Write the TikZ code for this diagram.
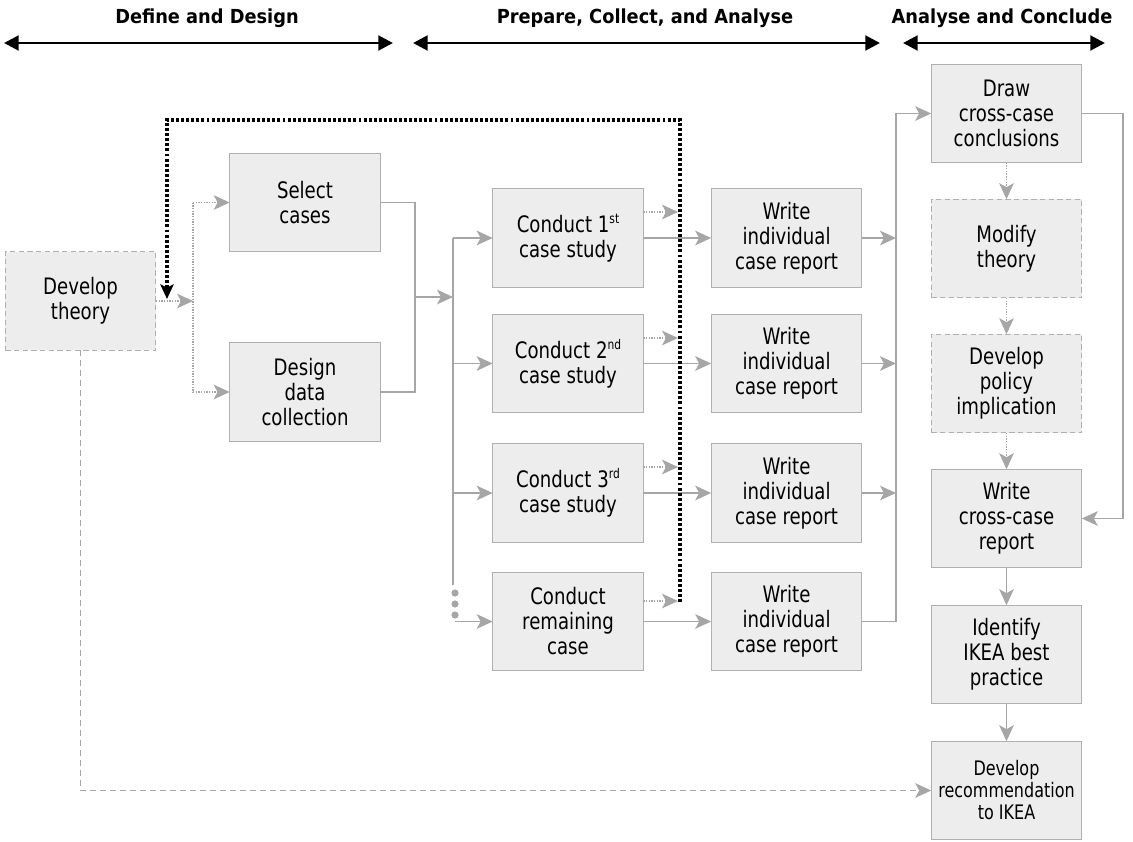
\documentclass[tikz,border=0pt]{standalone}
\usepackage{fontspec}
\setmainfont{DejaVu Sans}[FakeStretch=0.8]
\newfontfamily\headfont{DejaVu Sans}[FakeStretch=0.92]
\usetikzlibrary{arrows.meta,calc}

\definecolor{boxfill}{HTML}{EDEDED}
\definecolor{boxline}{HTML}{B0B0B0}
\definecolor{wiregray}{HTML}{A6A6A6}

% ordinal suffix, raised and reduced
\newcommand{\ordsuffix}[1]{\raisebox{0.72ex}{\fontsize{10}{10}\selectfont #1}}

\tikzset{
  box/.style={draw=boxline, fill=boxfill, line width=0.9pt,
    minimum width=113pt, minimum height=74pt, inner sep=0pt, outer sep=0pt,
    align=center, font=\fontsize{17}{18.75}\selectfont},
  dbox/.style={box, dash pattern=on 4pt off 2.5pt},
  smalltext/.style={font=\fontsize{15}{16.5}\selectfont},
  phase/.style={font=\headfont\bfseries\fontsize{14.5}{17}\selectfont, inner sep=0pt},
  gtip/.style={-{Stealth[length=12pt,width=11pt,inset=3pt]}},
  plainline/.style={draw=wiregray, line width=1.1pt},
  link/.style={plainline, gtip},
  dotlink/.style={link, line width=0.8pt, dash pattern=on 1pt off 1pt},
  dotline/.style={plainline, line width=0.8pt, dash pattern=on 1pt off 1pt},
  dashlink/.style={link, dash pattern=on 4.5pt off 3pt},
  feedback/.style={draw=black, line width=2.6pt, dash pattern=on 2.2pt off 1.6pt,
    -{Stealth[length=11pt,width=10pt,inset=2.5pt]}},
  phasearrow/.style={draw=black, line width=2.2pt,
    {Triangle[length=11pt,width=11pt]}-{Triangle[length=11pt,width=11pt]}}
}

\begin{document}
\begin{tikzpicture}[x=0.75pt, y=-0.75pt]
\useasboundingbox (0,0) rectangle (1133,842);

% phase headings with their span arrows
\node[phase] (ph1) at (207,18) {Define and Design};
\node[phase] (ph2) at (645,18) {Prepare, Collect, and Analyse};
\node[phase] (ph3) at (1002,18) {Analyse and Conclude};
\coordinate (a1l) at (4,43);   \coordinate (a1r) at (393,43);
\coordinate (a2l) at (413,43); \coordinate (a2r) at (880,43);
\coordinate (a3l) at (903,43); \coordinate (a3r) at (1105,43);
\draw[phasearrow] (a1l) -- (a1r);
\draw[phasearrow] (a2l) -- (a2r);
\draw[phasearrow] (a3l) -- (a3r);

% boxes
\node[dbox] (theory) at (80.5,301) {Develop\\theory};
\node[box] (select) at (305,202.5) {Select\\cases};
\node[box] (design) at (305,392) {Design\\data\\collection};

\node[box] (c1) at (568,238) {Conduct 1\ordsuffix{st}\\case study};
\node[box] (c2) at (568,363.5) {Conduct 2\ordsuffix{nd}\\case study};
\node[box] (c3) at (568,493) {Conduct 3\ordsuffix{rd}\\case study};
\node[box] (c4) at (568,621.5) {Conduct\\remaining\\case};

\node[box] (w1) at (786.5,238) {Write\\individual\\case report};
\node[box] (w2) at (786.5,363.5) {Write\\individual\\case report};
\node[box] (w3) at (786.5,493) {Write\\individual\\case report};
\node[box] (w4) at (786.5,621.5) {Write\\individual\\case report};

\node[box] (drawcc) at (1006.5,113.5) {Draw\\cross-case\\conclusions};
\node[dbox] (modify) at (1006.5,248.5) {Modify\\theory};
\node[dbox] (policy) at (1006.5,383.5) {Develop\\policy\\implication};
\node[box] (wcross) at (1006.5,518.5) {Write\\cross-case\\report};
\node[box] (identify) at (1006.5,654.5) {Identify\\IKEA best\\practice};
\node[box, smalltext] (rec) at (1006.5,790.5) {Develop\\recommendation\\to IKEA};

% theory fans out to case selection and data collection design
\coordinate (sp1) at (193,301);
\draw[dotlink] (theory.east) -- (sp1);
\draw[dotline] (sp1 |- select.west) -- (sp1 |- design.west);
\draw[dotlink] (sp1 |- select.west) -- (select.west);
\draw[dotlink] (sp1 |- design.west) -- (design.west);

% design work merges and fans out to the case studies
\coordinate (mj) at (415,297);
\coordinate (sp2) at (453,297);
\coordinate (sp2end) at (453,585);
\draw[plainline] (select.east) -| (mj) |- (design.east);
\draw[link] (mj) -- (sp2);
\draw[plainline] (sp2 |- c1.west) -- (sp2end);
\draw[link] (sp2 |- c1.west) -- (c1.west);
\draw[link] (sp2 |- c2.west) -- (c2.west);
\draw[link] (sp2 |- c3.west) -- (c3.west);
\coordinate (c4in) at (455,621.5);
\draw[link] (c4in) -- (c4.west);
\fill[wiregray] (455,593) circle[radius=2.7pt];
\fill[wiregray] (455,604) circle[radius=2.7pt];
\fill[wiregray] (455,615) circle[radius=2.7pt];

% case studies feed their reports
\draw[link] (c1.east) -- (w1.west);
\draw[link] (c2.east) -- (w2.west);
\draw[link] (c3.east) -- (w3.west);
\draw[link] (c4.east) -- (w4.west);

% short dotted arrows into the feedback loop
\coordinate (e1) at (678,212);
\coordinate (e2) at (678,338);
\coordinate (e3) at (678,467);
\coordinate (e4) at (678,601);
\draw[dotlink] (c1.east |- e1) -- (e1);
\draw[dotlink] (c2.east |- e2) -- (e2);
\draw[dotlink] (c3.east |- e3) -- (e3);
\draw[dotlink] (c4.east |- e4) -- (e4);

% feedback loop back to theory
\coordinate (fbA) at (680,602);
\coordinate (fbB) at (680,120);
\coordinate (fbC) at (167,120);
\coordinate (fbD) at (167,299);
\draw[feedback] (fbA) -- (fbB) -- (fbC) -- (fbD);

% reports collected into cross-case conclusions
\coordinate (cxT) at (896,113.5);
\draw[link] (w1.east) -- (w1.east -| cxT);
\draw[link] (w2.east) -- (w2.east -| cxT);
\draw[link] (w3.east) -- (w3.east -| cxT);
\draw[link] (w4.east) -| (cxT) -- (drawcc.west);

% right-hand chain
\coordinate (rx) at (1123,113.5);
\draw[link] (drawcc.east) -- (rx) |- (wcross.east);
\draw[dotlink] (drawcc.south) -- (modify.north);
\draw[dotlink] (modify.south) -- (policy.north);
\draw[dotlink] (policy.south) -- (wcross.north);
\draw[link] (wcross.south) -- (identify.north);
\draw[link] (identify.south) -- (rec.north);

% theory to the recommendation
\draw[dashlink] (theory.south) |- (rec.west);
\end{tikzpicture}
\end{document}
